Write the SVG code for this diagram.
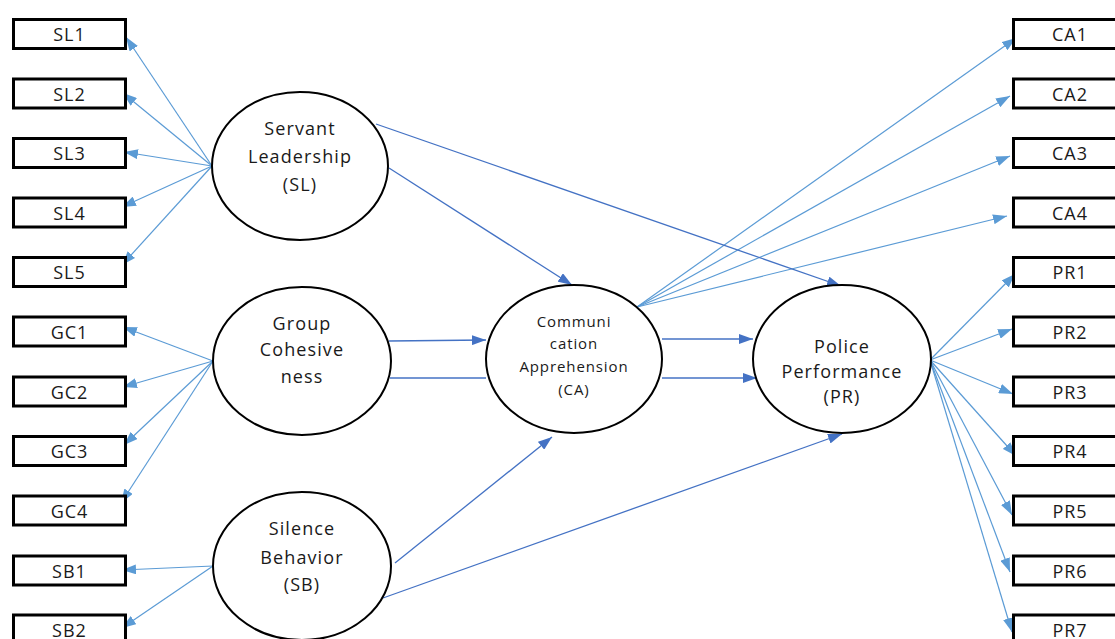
<svg xmlns="http://www.w3.org/2000/svg" width="1115" height="639" viewBox="0 0 1115 639">
<style>
.box{fill:#fff;stroke:#000;stroke-width:3}
.ell{fill:#fff;stroke:#000;stroke-width:2}
.bt{font-family:"Open Sans","Liberation Sans",sans-serif;font-size:18px;letter-spacing:1px;fill:#1a1a1a;text-anchor:middle;dominant-baseline:central}
.et{font-family:"Open Sans","Liberation Sans",sans-serif;font-size:18px;letter-spacing:1.1px;fill:#1a1a1a;text-anchor:middle;dominant-baseline:central}
.ct{font-family:"Open Sans","Liberation Sans",sans-serif;font-size:15px;letter-spacing:0.9px;fill:#1a1a1a;text-anchor:middle;dominant-baseline:central}
.lo{stroke:#5B9BD5;stroke-width:1.2;fill:none;marker-end:url(#ml)}
.st{stroke:#4472C4;stroke-width:1.3;fill:none;marker-end:url(#md)}
.sn{stroke:#4472C4;stroke-width:1.3;fill:none}
</style>
<defs>
<marker id="ml" markerUnits="userSpaceOnUse" markerWidth="14" markerHeight="10" refX="14" refY="5" orient="auto"><path d="M0,0 L14,5 L0,10 z" fill="#5B9BD5"/></marker>
<marker id="md" markerUnits="userSpaceOnUse" markerWidth="14" markerHeight="10" refX="14" refY="5" orient="auto"><path d="M0,0 L14,5 L0,10 z" fill="#4472C4"/></marker>
</defs>
<rect width="1115" height="639" fill="#fff"/>
<g id="connectors">
<line class="lo" x1="212" y1="166" x2="126" y2="37"/>
<line class="lo" x1="212" y1="166" x2="123" y2="93"/>
<line class="lo" x1="212" y1="166" x2="124" y2="152"/>
<line class="lo" x1="212" y1="166" x2="122" y2="207"/>
<line class="lo" x1="212" y1="166" x2="122" y2="265"/>
<line class="lo" x1="213" y1="361" x2="123" y2="327"/>
<line class="lo" x1="213" y1="361" x2="123" y2="387"/>
<line class="lo" x1="213" y1="361" x2="124" y2="445"/>
<line class="lo" x1="213" y1="361" x2="121" y2="503"/>
<line class="lo" x1="213" y1="566" x2="122" y2="570"/>
<line class="lo" x1="213" y1="566" x2="122" y2="628"/>
<line class="lo" x1="637" y1="307" x2="1016" y2="38"/>
<line class="lo" x1="637" y1="307" x2="1010" y2="96"/>
<line class="lo" x1="637" y1="307" x2="1010" y2="156"/>
<line class="lo" x1="637" y1="307" x2="1007" y2="216"/>
<line class="lo" x1="930" y1="360" x2="1015" y2="274"/>
<line class="lo" x1="930" y1="360" x2="1012" y2="329"/>
<line class="lo" x1="930" y1="360" x2="1013" y2="394"/>
<line class="lo" x1="930" y1="360" x2="1016" y2="456"/>
<line class="lo" x1="930" y1="360" x2="1012" y2="515"/>
<line class="lo" x1="930" y1="360" x2="1010" y2="572"/>
<line class="lo" x1="930" y1="360" x2="1012" y2="632"/>
<line class="st" x1="389" y1="168" x2="572" y2="285"/>
<line class="st" x1="376" y1="124" x2="841" y2="286"/>
<line class="st" x1="389" y1="341" x2="486" y2="340"/>
<line class="sn" x1="390" y1="378" x2="486" y2="378"/>
<line class="st" x1="662" y1="339" x2="753" y2="339"/>
<line class="st" x1="662" y1="378" x2="757" y2="378"/>
<line class="st" x1="395" y1="563" x2="552" y2="437"/>
<line class="st" x1="383" y1="598" x2="842" y2="434"/>
</g>
<g id="SL"><ellipse class="ell" cx="300" cy="166" rx="88" ry="74"/><text class="et" x="300" y="128">Servant</text><text class="et" x="300" y="156">Leadership</text><text class="et" x="300" y="184">(SL)</text></g>
<g id="GC"><ellipse class="ell" cx="302" cy="361" rx="89" ry="74"/><text class="et" x="302" y="323">Group</text><text class="et" x="302" y="349">Cohesive</text><text class="et" x="302" y="376">ness</text></g>
<g id="SB"><ellipse class="ell" cx="302" cy="566" rx="89" ry="74"/><text class="et" x="302" y="528">Silence</text><text class="et" x="302" y="557">Behavior</text><text class="et" x="302" y="584">(SB)</text></g>
<g id="CA"><ellipse class="ell" cx="574" cy="359" rx="88" ry="74"/><text class="ct" x="574" y="321">Communi</text><text class="ct" x="574" y="343">cation</text><text class="ct" x="574" y="366">Apprehension</text><text class="ct" x="574" y="389">(CA)</text></g>
<g id="PR"><ellipse class="ell" cx="842" cy="359" rx="89" ry="74"/><text class="et" x="842" y="346">Police</text><text class="et" x="842" y="371">Performance</text><text class="et" x="842" y="396">(PR)</text></g>
<g id="SL1"><rect class="box" x="13.5" y="19.5" width="112" height="29"/><text class="bt" x="69.5" y="34">SL1</text></g>
<g id="SL2"><rect class="box" x="13.5" y="79" width="112" height="29"/><text class="bt" x="69.5" y="93.5">SL2</text></g>
<g id="SL3"><rect class="box" x="13.5" y="138.5" width="112" height="29"/><text class="bt" x="69.5" y="153">SL3</text></g>
<g id="SL4"><rect class="box" x="13.5" y="198" width="112" height="29"/><text class="bt" x="69.5" y="212.5">SL4</text></g>
<g id="SL5"><rect class="box" x="13.5" y="257.5" width="112" height="29"/><text class="bt" x="69.5" y="272">SL5</text></g>
<g id="GC1"><rect class="box" x="13.5" y="317" width="112" height="29"/><text class="bt" x="69.5" y="331.5">GC1</text></g>
<g id="GC2"><rect class="box" x="13.5" y="377" width="112" height="29"/><text class="bt" x="69.5" y="391.5">GC2</text></g>
<g id="GC3"><rect class="box" x="13.5" y="436.5" width="112" height="29"/><text class="bt" x="69.5" y="451">GC3</text></g>
<g id="GC4"><rect class="box" x="13.5" y="496" width="112" height="29"/><text class="bt" x="69.5" y="510.5">GC4</text></g>
<g id="SB1"><rect class="box" x="13.5" y="556" width="112" height="29"/><text class="bt" x="69.5" y="570.5">SB1</text></g>
<g id="SB2"><rect class="box" x="13.5" y="615" width="112" height="29"/><text class="bt" x="69.5" y="629.5">SB2</text></g>
<g id="CA1"><rect class="box" x="1013.5" y="19.5" width="112" height="29"/><text class="bt" x="1070" y="34">CA1</text></g>
<g id="CA2"><rect class="box" x="1013.5" y="79" width="112" height="29"/><text class="bt" x="1070" y="93.5">CA2</text></g>
<g id="CA3"><rect class="box" x="1013.5" y="138.5" width="112" height="29"/><text class="bt" x="1070" y="153">CA3</text></g>
<g id="CA4"><rect class="box" x="1013.5" y="198" width="112" height="29"/><text class="bt" x="1070" y="212.5">CA4</text></g>
<g id="PR1"><rect class="box" x="1013.5" y="257.5" width="112" height="29"/><text class="bt" x="1070" y="272">PR1</text></g>
<g id="PR2"><rect class="box" x="1013.5" y="317" width="112" height="29"/><text class="bt" x="1070" y="331.5">PR2</text></g>
<g id="PR3"><rect class="box" x="1013.5" y="377" width="112" height="29"/><text class="bt" x="1070" y="391.5">PR3</text></g>
<g id="PR4"><rect class="box" x="1013.5" y="436.5" width="112" height="29"/><text class="bt" x="1070" y="451">PR4</text></g>
<g id="PR5"><rect class="box" x="1013.5" y="496" width="112" height="29"/><text class="bt" x="1070" y="510.5">PR5</text></g>
<g id="PR6"><rect class="box" x="1013.5" y="556" width="112" height="29"/><text class="bt" x="1070" y="570.5">PR6</text></g>
<g id="PR7"><rect class="box" x="1013.5" y="615" width="112" height="29"/><text class="bt" x="1070" y="629.5">PR7</text></g>
</svg>
